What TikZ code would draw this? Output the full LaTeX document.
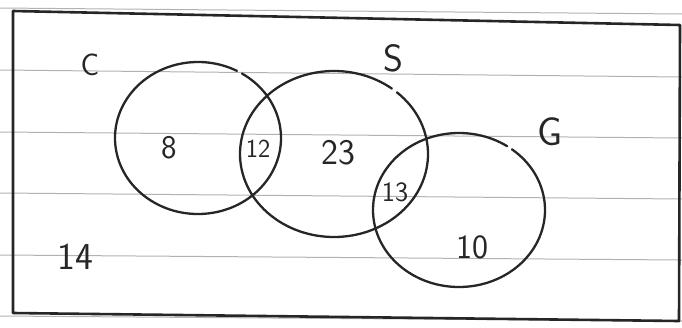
\documentclass[tikz,border=0pt]{standalone}
\begin{document}
\begin{tikzpicture}[x=1pt, y=-1pt,
    ring/.style={line width=2.3pt, black!85, line cap=round},
    ruling/.style={line width=1pt, black!30},
    frame/.style={line width=2.6pt, black!85, line join=round},
    lbl/.style={font=\sffamily\fontsize{#1}{#1}\selectfont, text=black!85, inner sep=0pt},
    lbl/.default=32
]
\useasboundingbox (0,0) rectangle (682,327);
\foreach \ya/\yb in {8/14, 70/77, 132/138, 193/199, 255/260, 316/321}
  \draw[ruling] (0,\ya) -- (682,\yb);
\draw[frame] (13,11) -- (680,25) -- (679,321) -- (13,313) -- cycle;

\coordinate (cC) at (198,138);
\coordinate (cS) at (334,154);
\coordinate (cG) at (459,210);
\draw[ring] ([shift={(-58:83 and 76)}]cC) arc[start angle=-58, end angle=298, x radius=83, y radius=76];
\draw[ring] ([shift={(-48:94 and 83)}]cS) arc[start angle=-48, end angle=308, x radius=94, y radius=83];
\draw[ring] ([shift={(-52:86 and 77)}]cG) arc[start angle=-52, end angle=304, x radius=86, y radius=77];

\node[lbl=31] (setC) at (90,65) {C};
\node[lbl=38] (setS) at (393,58) {S};
\node[lbl=40] (setG) at (550,132) {G};
\node[lbl=33] (onlyC) at (169,148) {8};
\node[lbl=26] (cs) at (258,149) {12};
\node[lbl=36] (onlyS) at (338,153) {23};
\node[lbl=28] (sg) at (395,192) {13};
\node[lbl=34] (onlyG) at (472,247) {10};
\node[lbl=38] (none) at (75,257) {14};
\end{tikzpicture}
\end{document}
